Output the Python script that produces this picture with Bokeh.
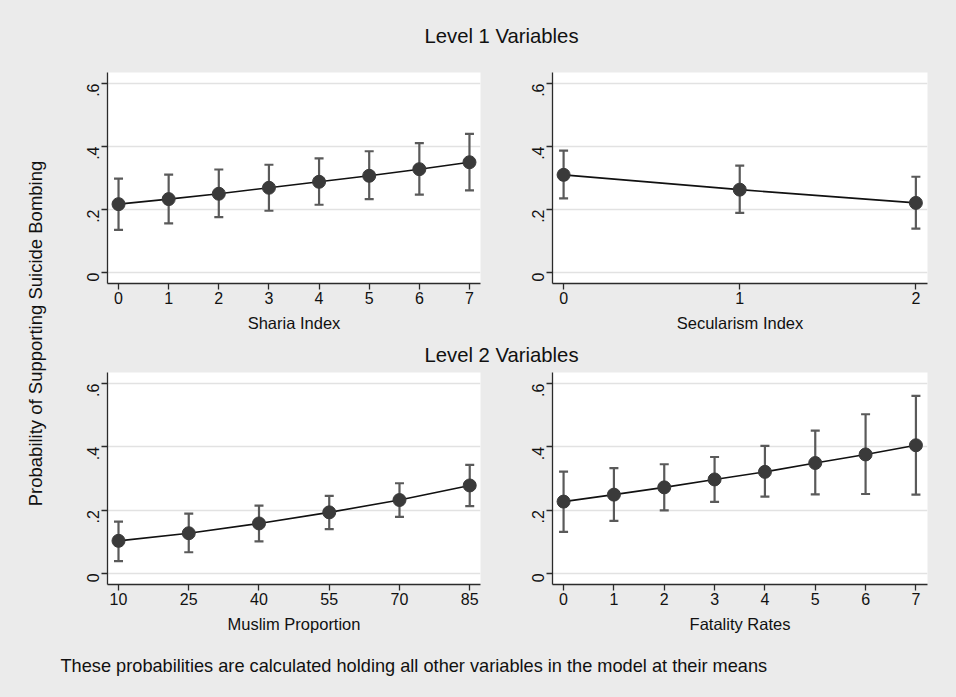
import math
from bokeh.plotting import figure
from bokeh.models import Range1d, FixedTicker, Label
from bokeh.layouts import row, column
from bokeh.embed import file_html
from bokeh.resources import INLINE

# ---------------- data ----------------
sharia_x = [0, 1, 2, 3, 4, 5, 6, 7]
sharia_est = [0.217, 0.233, 0.250, 0.269, 0.288, 0.307, 0.328, 0.350]
sharia_lo = [0.135, 0.156, 0.176, 0.196, 0.215, 0.233, 0.247, 0.261]
sharia_hi = [0.298, 0.311, 0.327, 0.342, 0.362, 0.385, 0.411, 0.440]

secular_x = [0, 1, 2]
secular_est = [0.310, 0.263, 0.221]
secular_lo = [0.235, 0.189, 0.139]
secular_hi = [0.387, 0.339, 0.304]

muslim_x = [10, 25, 40, 55, 70, 85]
muslim_est = [0.103, 0.127, 0.158, 0.193, 0.232, 0.278]
muslim_lo = [0.039, 0.067, 0.101, 0.140, 0.179, 0.213]
muslim_hi = [0.164, 0.189, 0.214, 0.245, 0.285, 0.343]

fatal_x = [0, 1, 2, 3, 4, 5, 6, 7]
fatal_est = [0.227, 0.249, 0.272, 0.297, 0.321, 0.349, 0.376, 0.405]
fatal_lo = [0.131, 0.166, 0.199, 0.226, 0.243, 0.250, 0.251, 0.249]
fatal_hi = [0.322, 0.333, 0.345, 0.368, 0.403, 0.451, 0.503, 0.561]

y_ticks = [0, 0.2, 0.4, 0.6]
y_tick_labels = ["0", ".2", ".4", ".6"]

title_top = "Level 1 Variables"
title_bottom = "Level 2 Variables"
y_title = "Probability of Supporting Suicide Bombing"
footnote = "These probabilities are calculated holding all other variables in the model at their means"

# ---------------- style ----------------
BG = "#ebebeb"
FONT = "Liberation Sans"
BAR = "#5a5a5a"
DOT = "#3a3a3a"
INK = "#111111"


def panel(x, est, lo, hi, xr, xlabel, fw, fh, left, right, top, bottom):
    p = figure(
        frame_width=fw, frame_height=fh,
        min_border_left=left, min_border_right=right,
        min_border_top=top, min_border_bottom=bottom,
        x_range=Range1d(*xr), y_range=Range1d(-0.035, 0.635),
        output_backend="svg", toolbar_location=None,
        background_fill_color="white", border_fill_color=BG,
        outline_line_color=None,
    )
    p.xgrid.visible = False
    p.ygrid.grid_line_color = "#e2e2e2"
    p.ygrid.grid_line_width = 1.5
    p.ygrid.ticker = FixedTicker(ticks=y_ticks)

    p.yaxis.ticker = FixedTicker(ticks=y_ticks)
    p.yaxis.major_label_overrides = {t: s for t, s in zip(y_ticks, y_tick_labels)}
    p.yaxis.major_label_orientation = math.pi / 2
    p.xaxis.ticker = FixedTicker(ticks=x)
    p.xaxis.axis_label = xlabel

    for ax in (p.xaxis[0], p.yaxis[0]):
        ax.axis_line_color = "#2b2b2b"
        ax.axis_line_width = 1.3
        ax.major_tick_line_color = "#2b2b2b"
        ax.major_tick_line_width = 1.3
        ax.major_tick_out = 6
        ax.major_tick_in = 0
        ax.minor_tick_line_color = None
        ax.major_label_text_font = FONT
        ax.major_label_text_font_size = "16px"
        ax.major_label_text_color = INK
        ax.axis_label_text_font = FONT
        ax.axis_label_text_font_size = "16.5px"
        ax.axis_label_text_font_style = "normal"
        ax.axis_label_text_color = INK
    p.xaxis.major_label_standoff = 2
    p.xaxis.axis_label_standoff = 7
    p.yaxis.major_label_standoff = 8

    # error bars
    p.segment(x0=x, y0=lo, x1=x, y1=hi, line_color=BAR, line_width=2.2)
    p.scatter(x=x, y=lo, marker="dash", size=9, line_color=BAR, line_width=2.2)
    p.scatter(x=x, y=hi, marker="dash", size=9, line_color=BAR, line_width=2.2)
    # connecting line and points
    p.line(x=x, y=est, line_color=INK, line_width=1.6)
    p.scatter(x=x, y=est, marker="circle", size=13, fill_color=DOT, line_color=DOT)
    return p


def text_box(w, h, text, x, y, size, align="center", angle=0.0):
    f = figure(frame_width=w, frame_height=h, min_border=0,
               x_range=Range1d(0, w), y_range=Range1d(0, h),
               x_axis_type=None, y_axis_type=None,
               output_backend="svg", toolbar_location=None,
               background_fill_color=BG, border_fill_color=BG, outline_line_color=None)
    f.grid.visible = False
    f.add_layout(Label(x=x, y=y, text=text, angle=angle,
                       text_align=align, text_baseline="middle",
                       text_font=FONT, text_font_size=size, text_color=INK))
    return f


LAB_W = 58
FW_L, FW_R = 373, 375
FH1, FH2 = 211, 212
L1, R1, L2, R2 = 49, 10, 62, 29
COL_W = L1 + FW_L + R1 + L2 + FW_R + R2          # 898
T1_H, T2_H, FN_H = 60, 26, 53
TOP1, BOT1, TOP2, BOT2 = 12, 58, 5, 60
TOTAL_H = T1_H + TOP1 + FH1 + BOT1 + T2_H + TOP2 + FH2 + BOT2 + FN_H   # 697

p1 = panel(sharia_x, sharia_est, sharia_lo, sharia_hi, (-0.22, 7.22), "Sharia Index",
           FW_L, FH1, L1, R1, TOP1, BOT1)
p2 = panel(secular_x, secular_est, secular_lo, secular_hi, (-0.063, 2.066), "Secularism Index",
           FW_R, FH1, L2, R2, TOP1, BOT1)
p3 = panel(muslim_x, muslim_est, muslim_lo, muslim_hi, (7.65, 87.3), "Muslim Proportion",
           FW_L, FH2, L1, R1, TOP2, BOT2)
p4 = panel(fatal_x, fatal_est, fatal_lo, fatal_hi, (-0.22, 7.23), "Fatality Rates",
           FW_R, FH2, L2, R2, TOP2, BOT2)

t1 = text_box(COL_W, T1_H, title_top, 443, T1_H - 35, "20.3px")
t2 = text_box(COL_W, T2_H, title_bottom, 443, T2_H / 2, "20.3px")
fn = text_box(COL_W, FN_H, footnote, 2, FN_H - 21, "18.2px", align="left")
lab = text_box(LAB_W, TOTAL_H, y_title, 35, TOTAL_H - 333, "18.5px", angle=math.pi / 2)

layout = row(lab, column(t1, row(p1, p2), t2, row(p3, p4), fn))

html = file_html(layout, INLINE, title="chart")
html = html.replace("</head>", f"<style>html,body{{background:{BG};}}</style></head>", 1)
open("out.html", "w").write(html)
